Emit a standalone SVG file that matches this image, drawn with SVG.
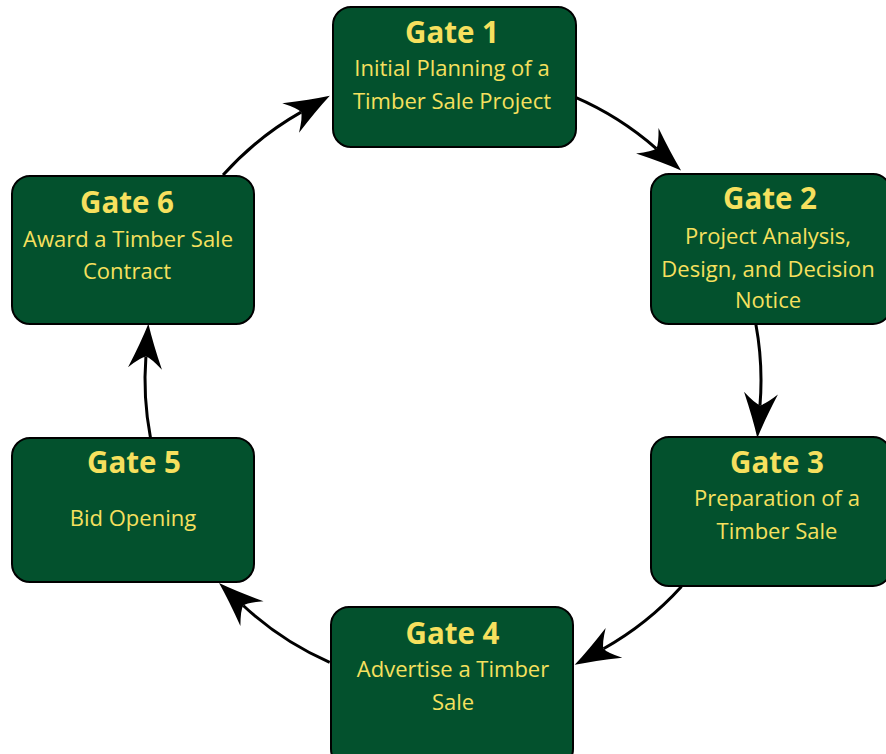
<svg xmlns="http://www.w3.org/2000/svg" width="886" height="754" viewBox="0 0 886 754">
<defs>
<style>
.box{fill:#03512D;stroke:#000;stroke-width:2}
.t{font-family:"Open Sans","Liberation Sans",sans-serif;font-weight:bold;font-size:29.5px;fill:#F6E05E;text-anchor:middle}
.s{font-family:"Open Sans","Liberation Sans",sans-serif;font-size:22px;fill:#F6E05E;text-anchor:middle}
.c{fill:none;stroke:#000;stroke-width:3}
</style>
<marker id="ah" markerUnits="userSpaceOnUse" orient="auto" markerWidth="60" markerHeight="40" viewBox="-15 -20 60 40" refX="0" refY="0" overflow="visible">
<path d="M33,0 Q14,-6 -12,-17 Q-1,-5 0,0 Q-1,5 -12,17 Q14,6 33,0 Z" fill="#000"/>
</marker>
</defs>
<rect width="886" height="754" fill="#fff"/>
<g id="connectors">
<path class="c" marker-end="url(#ah)" d="M574.4,96.9 A308,308 0 0 1 656.3,148.6"/>
<path class="c" marker-end="url(#ah)" d="M755.9,324.4 A308,308 0 0 1 760.0,405.2"/>
<path class="c" marker-end="url(#ah)" d="M681.5,586.5 A308,308 0 0 1 603.5,648.7"/>
<path class="c" marker-end="url(#ah)" d="M329.7,662.3 A308,308 0 0 1 243.2,605.5"/>
<path class="c" marker-end="url(#ah)" d="M150.4,437.2 A308,308 0 0 1 145.9,356.6"/>
<path class="c" marker-end="url(#ah)" d="M223.05,175.1 A308,308 0 0 1 301.1,112.1"/>
</g>
<g id="gate1">
<rect class="box" x="333" y="7" width="243" height="140" rx="18"/>
<text class="t" x="452" y="43">Gate 1</text>
<text class="s" x="452" y="76">Initial Planning of a</text>
<text class="s" x="452" y="109">Timber Sale Project</text>
</g>
<g id="gate2">
<rect class="box" x="651" y="174" width="240" height="150" rx="18"/>
<text class="t" x="770" y="209">Gate 2</text>
<text class="s" x="768" y="244">Project Analysis,</text>
<text class="s" x="768" y="277">Design, and Decision</text>
<text class="s" x="768" y="308">Notice</text>
</g>
<g id="gate3">
<rect class="box" x="651" y="437" width="240" height="149" rx="18"/>
<text class="t" x="777" y="473">Gate 3</text>
<text class="s" x="777" y="506">Preparation of a</text>
<text class="s" x="777" y="539">Timber Sale</text>
</g>
<g id="gate4">
<rect class="box" x="331" y="607" width="242" height="160" rx="18"/>
<text class="t" x="452.5" y="644">Gate 4</text>
<text class="s" x="453" y="677">Advertise a Timber</text>
<text class="s" x="453" y="710">Sale</text>
</g>
<g id="gate5">
<rect class="box" x="12" y="438" width="242" height="144" rx="18"/>
<text class="t" x="134" y="473">Gate 5</text>
<text class="s" x="133" y="526">Bid Opening</text>
</g>
<g id="gate6">
<rect class="box" x="12" y="176" width="242" height="148" rx="18"/>
<text class="t" x="127" y="213">Gate 6</text>
<text class="s" x="128" y="247">Award a Timber Sale</text>
<text class="s" x="127" y="279">Contract</text>
</g>
</svg>
